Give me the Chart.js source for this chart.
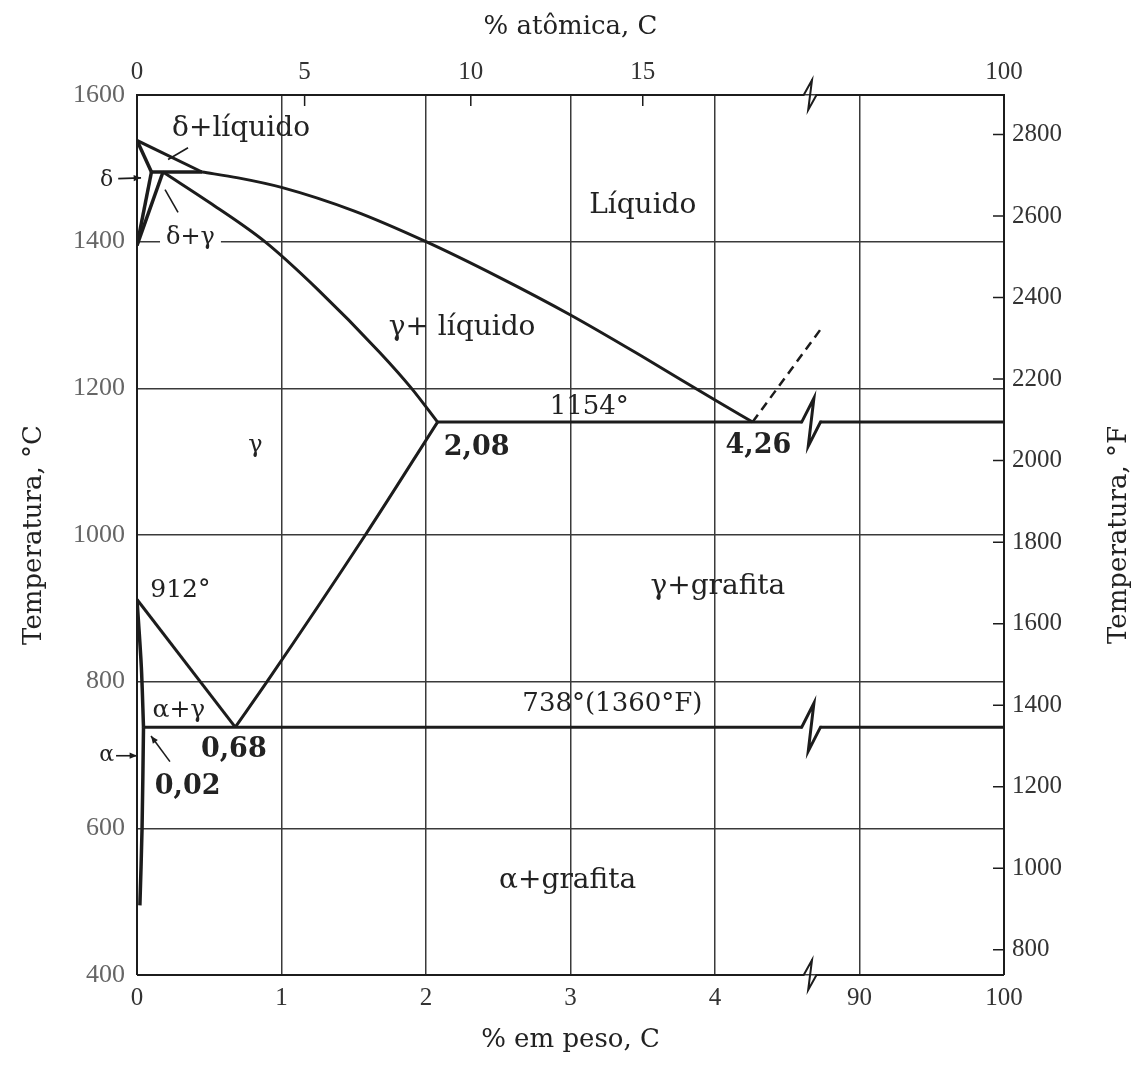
<!DOCTYPE html>
<html>
<head>
<meta charset="utf-8">
<script src="https://cdn.jsdelivr.net/npm/chart.js@4.4.0/dist/chart.umd.min.js"></script>
<style>
  body { margin: 0; background: #fff; }
  #wrap { width: 1140px; height: 1065px; }
</style>
</head>
<body>
<div id="wrap"><canvas id="feC" width="1140" height="1065"></canvas></div>
<script>
// axis ticks
const wtTicks = [0, 1, 2, 3, 4, 90, 100];            // % em peso, C (bottom)
const atTickLabels = [0, 5, 10, 15, 100];             // % atômica, C (top)
const atTickWt = [0, 1.16, 2.31, 3.50, 100];          // where those fall, in wt %
const cTicks = [400, 600, 800, 1000, 1200, 1400, 1600];
const fTicks = [800, 1000, 1200, 1400, 1600, 1800, 2000, 2200, 2400, 2600, 2800];

// phase boundaries, wt % C against °C
const liqDeltaWt = [0, 0.45];
const liqDeltaC = [1538, 1495];
const liquidusWt = [0.45, 0.7, 1.0, 1.5, 2.0, 2.5, 3.0, 3.5, 4.0, 4.26];
const liquidusC = [1495, 1487, 1474, 1442, 1400, 1352, 1300, 1243, 1184, 1154];
const deltaSolidusWt = [0, 0.1];
const deltaSolidusC = [1538, 1495];
const peritecticWt = [0.1, 0.45];
const peritecticC = [1495, 1495];
const deltaSolvusWt = [0, 0.1];
const deltaSolvusC = [1395, 1495];
const gammaDeltaWt = [0, 0.18];
const gammaDeltaC = [1395, 1495];
const gammaSolidusWt = [0.18, 0.52, 0.885, 1.25, 1.68, 1.9, 2.08];
const gammaSolidusC = [1495, 1451, 1400, 1335, 1249, 1200, 1154];
const eutecticWt = [2.08, 100];
const eutecticC = [1154, 1154];
const graphiteLiqWt = [4.26, 4.74];
const graphiteLiqC = [1154, 1283];
const a3Wt = [0, 0.68];
const a3C = [912, 738];
const acmWt = [0.68, 0.9, 1.58, 2.08];
const acmC = [738, 800, 1000, 1154];
const alphaGammaWt = [0, 0.03, 0.045];
const alphaGammaC = [912, 820, 738];
const alphaSolvusWt = [0.045, 0.035, 0.02];
const alphaSolvusC = [738, 600, 495];
const eutectoidWt = [0.045, 100];
const eutectoidC = [738, 738];

// broken composition axis: 0-4.6 wt% at full scale, then 87.3-100 compressed
const BREAK_LO = 4.6;
const BREAK_HI = 87.3;
const toD = w => (w < 50 ? w : 4.73 + (w - BREAK_HI) * 0.1);

const INK = '#1c1c1c';
const GRID = '#3a3a3a';
const SERIF = 'DejaVu Serif';
const TIMES = 'Liberation Serif';

const pts = (ws, cs) => ws.map((w, i) => ({x: toD(w), y: cs[i]}));

function boundary(ws, cs, extra) {
    return Object.assign({
        data: pts(ws, cs),
        borderColor: INK,
        borderWidth: 3,
        pointRadius: 0,
        tension: 0,
        fill: false
    }, extra || {});
}

// horizontal invariant lines are cut where the axis is broken
function splitLine(ws, cs) {
    return [
        boundary([ws[0], BREAK_LO], [cs[0], cs[0]]),
        boundary([BREAK_HI, ws[1]], [cs[1], cs[1]])
    ];
}

const datasets = [
    boundary(liqDeltaWt, liqDeltaC),
    boundary(liquidusWt, liquidusC, {cubicInterpolationMode: 'monotone'}),
    boundary(deltaSolidusWt, deltaSolidusC, {borderWidth: 3.5}),
    boundary(peritecticWt, peritecticC, {borderWidth: 3.5}),
    boundary(deltaSolvusWt, deltaSolvusC, {borderWidth: 3.5}),
    boundary(gammaDeltaWt, gammaDeltaC, {borderWidth: 3.5}),
    boundary(gammaSolidusWt, gammaSolidusC, {cubicInterpolationMode: 'monotone'}),
    ...splitLine(eutecticWt, eutecticC),
    boundary(graphiteLiqWt, graphiteLiqC, {borderDash: [9, 6], borderWidth: 2.5}),
    boundary(a3Wt, a3C),
    boundary(acmWt, acmC, {cubicInterpolationMode: 'monotone'}),
    boundary(alphaGammaWt, alphaGammaC, {borderWidth: 3.5, tension: 0.3}),
    boundary(alphaSolvusWt, alphaSolvusC, {borderWidth: 3.5, tension: 0.3}),
    ...splitLine(eutectoidWt, eutectoidC)
];

// region names and values written on the diagram
const notes = [
    {t: 'Líquido', w: 3.50, c: 1449, size: 28},
    {t: 'δ+líquido', w: 0.72, c: 1554, size: 28},
    {t: 'δ', w: -0.21, c: 1484, size: 22},
    {t: 'δ+γ', w: 0.37, c: 1405, size: 24, bg: true},
    {t: 'γ+ líquido', w: 2.25, c: 1283, size: 28},
    {t: '1154°', w: 3.13, c: 1174, size: 26},
    {t: 'γ', w: 0.82, c: 1122, size: 24},
    {t: '2,08', w: 2.35, c: 1118, size: 27, bold: true},
    {t: '4,26', w: 4.30, c: 1121, size: 27, bold: true},
    {t: '912°', w: 0.30, c: 924, size: 25},
    {t: 'γ+grafita', w: 4.02, c: 929, size: 28},
    {t: 'α+γ', w: 0.29, c: 761, size: 25},
    {t: '738°(1360°F)', w: 3.29, c: 769, size: 26},
    {t: '0,68', w: 0.67, c: 707, size: 27, bold: true},
    {t: 'α', w: -0.21, c: 699, size: 22},
    {t: '0,02', w: 0.35, c: 656, size: 27, bold: true},
    {t: 'α+grafita', w: 2.98, c: 529, size: 28}
];

// leader lines [w0, c0, w1, c1, arrowhead at end]
const leaders = [
    [0.215, 1512, 0.353, 1528, false],
    [0.194, 1471, 0.284, 1440, false],
    [-0.13, 1486, 0.028, 1487, true],
    [-0.145, 699, 0.0, 699, true],
    [0.228, 691, 0.097, 726, true]
];

function zig(ctx, x0, x1, yy, h) {
    const dx = x1 - x0;
    ctx.lineTo(x0, yy);
    ctx.lineTo(x0 + dx * 0.65, yy - h);
    ctx.lineTo(x0 + dx * 0.35, yy + h);
    ctx.lineTo(x1, yy);
}

const decor = {
    id: 'decor',
    afterDatasetsDraw(chart) {
        const {ctx, chartArea: a, scales} = chart;
        const x = scales.x, y = scales.y, y2 = scales.y2;
        const px = w => x.getPixelForValue(toD(w));
        const py = c => y.getPixelForValue(c);
        const b0 = px(BREAK_LO), b1 = px(BREAK_HI);

        ctx.save();
        ctx.strokeStyle = INK;
        ctx.lineJoin = 'miter';

        // frame with break marks
        ctx.lineWidth = 2;
        ctx.beginPath();
        ctx.moveTo(a.left, a.bottom);
        ctx.lineTo(a.left, a.top);
        zig(ctx, b0 + 2, b1 - 4, a.top, 15);
        ctx.lineTo(a.right, a.top);
        ctx.lineTo(a.right, a.bottom);
        ctx.stroke();
        ctx.beginPath();
        ctx.moveTo(a.left, a.bottom);
        zig(ctx, b0 + 2, b1 - 4, a.bottom, 15);
        ctx.lineTo(a.right, a.bottom);
        ctx.stroke();

        // break marks on the two invariant lines
        ctx.lineWidth = 3;
        [eutecticC[0], eutectoidC[0]].forEach(c => {
            ctx.beginPath();
            ctx.moveTo(b0 - 1, py(c));
            zig(ctx, b0, b1, py(c), 24);
            ctx.lineTo(b1 + 1, py(c));
            ctx.stroke();
        });

        // inward ticks: atomic % on top, °F on the right
        ctx.lineWidth = 1.5;
        ctx.beginPath();
        atTickWt.slice(1, -1).forEach(w => {
            ctx.moveTo(px(w), a.top);
            ctx.lineTo(px(w), a.top + 11);
        });
        fTicks.forEach(f => {
            const yy = y2.getPixelForValue(f);
            ctx.moveTo(a.right - 11, yy);
            ctx.lineTo(a.right, yy);
        });
        ctx.stroke();

        // leader lines
        ctx.lineWidth = 1.6;
        leaders.forEach(([w0, c0, w1, c1, head]) => {
            const x0 = px(w0), y0 = py(c0), x1 = px(w1), y1 = py(c1);
            ctx.beginPath();
            ctx.moveTo(x0, y0);
            ctx.lineTo(x1, y1);
            ctx.stroke();
            if (head) {
                const ang = Math.atan2(y1 - y0, x1 - x0);
                ctx.beginPath();
                ctx.moveTo(x1, y1);
                ctx.lineTo(x1 - 8 * Math.cos(ang - 0.4), y1 - 8 * Math.sin(ang - 0.4));
                ctx.lineTo(x1 - 8 * Math.cos(ang + 0.4), y1 - 8 * Math.sin(ang + 0.4));
                ctx.closePath();
                ctx.fillStyle = INK;
                ctx.fill();
            }
        });

        // labels
        ctx.textAlign = 'center';
        ctx.textBaseline = 'middle';
        notes.forEach(n => {
            ctx.font = (n.bold ? 'bold ' : '') + n.size + 'px "' + SERIF + '"';
            const xx = px(n.w), yy = py(n.c);
            if (n.bg) {
                const tw = ctx.measureText(n.t).width;
                ctx.fillStyle = '#fff';
                ctx.fillRect(xx - tw / 2 - 6, yy - n.size / 2, tw + 12, n.size);
            }
            ctx.fillStyle = '#222';
            ctx.fillText(n.t, xx, yy);
        });

        // right-hand title reads upwards like the left one
        ctx.translate(1119, (a.top + a.bottom) / 2);
        ctx.rotate(-Math.PI / 2);
        ctx.font = '26px "' + SERIF + '"';
        ctx.fillStyle = '#222';
        ctx.fillText('Temperatura, °F', 0, 0);
        ctx.restore();
    }
};

const tickFont = {family: TIMES, size: 25};
const titleFont = {family: SERIF, size: 26};
const plain = v => String(v);

new Chart(document.getElementById('feC'), {
    type: 'line',
    data: {datasets: datasets},
    options: {
        responsive: false,
        animation: false,
        layout: {padding: 0},
        plugins: {legend: {display: false}, tooltip: {enabled: false}},
        scales: {
            x: {
                type: 'linear',
                position: 'bottom',
                min: 0,
                max: toD(100),
                afterBuildTicks: s => { s.ticks = wtTicks.map(w => ({value: toD(w)})); },
                afterFit: s => { s.height = 90; },
                ticks: {
                    autoSkip: false, maxRotation: 0, padding: 8, color: '#333', font: tickFont,
                    callback: (v, i) => String(wtTicks[i])
                },
                grid: {color: GRID, lineWidth: 1.5, drawTicks: false},
                border: {display: false},
                title: {display: true, text: '% em peso, C', color: '#222', font: titleFont, padding: {top: 0, bottom: 9}}
            },
            x2: {
                type: 'linear',
                position: 'top',
                min: 0,
                max: toD(100),
                afterBuildTicks: s => { s.ticks = atTickWt.map(w => ({value: toD(w)})); },
                afterFit: s => { s.height = 95; },
                ticks: {
                    autoSkip: false, maxRotation: 0, padding: 8, color: '#333', font: tickFont,
                    callback: (v, i) => String(atTickLabels[i])
                },
                grid: {drawOnChartArea: false, drawTicks: false},
                border: {display: false},
                title: {display: true, text: '% atômica, C', color: '#222', font: titleFont, padding: {top: 12, bottom: 0}}
            },
            y: {
                type: 'linear',
                position: 'left',
                min: 400,
                max: 1600,
                afterBuildTicks: s => { s.ticks = cTicks.map(v => ({value: v})); },
                afterFit: s => { s.width = 137; },
                ticks: {padding: 12, color: '#666', font: {family: TIMES, size: 26}, callback: plain},
                grid: {color: GRID, lineWidth: 1.5, drawTicks: false},
                border: {display: false},
                title: {display: true, text: 'Temperatura, °C', color: '#222', font: titleFont, padding: {top: 19, bottom: 0}}
            },
            y2: {
                type: 'linear',
                position: 'right',
                min: 738,
                max: 2897,
                afterBuildTicks: s => { s.ticks = fTicks.map(v => ({value: v})); },
                afterFit: s => { s.width = 136; },
                ticks: {padding: 8, color: '#333', font: tickFont, callback: plain},
                grid: {drawOnChartArea: false, drawTicks: false},
                border: {display: false}
            }
        }
    },
    plugins: [decor]
});
</script>
</body>
</html>
